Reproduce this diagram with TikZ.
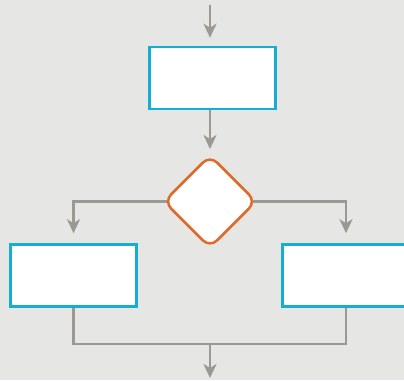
\documentclass[tikz,border=0pt]{standalone}
\usetikzlibrary{arrows.meta}
\definecolor{bgc}{HTML}{E6E6E4}
\definecolor{conc}{HTML}{9A9A92}
\definecolor{boxc}{HTML}{14AED2}
\definecolor{decc}{HTML}{E06A28}
\begin{document}
\begin{tikzpicture}[x=1pt,y=-1pt,
  procbox/.style={draw=boxc,fill=white,line width=2.6pt,rectangle,minimum width=126.5pt,minimum height=62pt,inner sep=0pt},
  decline/.style={draw=decc,fill=white,line width=2.5pt,rounded corners=10pt},
  conn/.style={draw=conc,line width=2.8pt},
  arr/.style={conn,-{Stealth[length=14pt,width=13pt,inset=4pt]}}]
\fill[bgc] (0,0) rectangle (404,380);
\useasboundingbox (0,0) rectangle (404,380);
\node[procbox] (top) at (212.5,78) {};
\node[procbox] (left) at (73.5,275.5) {};
\node[procbox] (right) at (345.5,275.5) {};
\coordinate (dec) at (210,201.5);
\coordinate (dn) at (210,155.5);
\coordinate (ds) at (210,247.5);
\coordinate (dw) at (164,201.5);
\coordinate (de) at (256,201.5);
\coordinate (dwa) at (167.5,201.5);
\coordinate (dea) at (252.5,201.5);
\coordinate (start) at (210,5);
\coordinate (lc) at (73.5,201.5);
\coordinate (rc) at (346,201.5);
\coordinate (merge) at (210,344);
\coordinate (endp) at (210,378);
\draw[arr,shorten >=8pt] (start) -- (start |- top.north);
\draw[arr] (top.south -| dec) -- (210,149);
\draw[arr,shorten >=10pt] (dwa) -- (lc) -- (left.north);
\draw[arr,shorten >=10pt] (dea) -- (rc) -- (rc |- right.north);
\draw[conn] (left.south) |- (merge) -| (rc |- right.south);
\draw[arr] (merge) -- (endp);
\draw[decline] (dn) -- (de) -- (ds) -- (dw) -- cycle;
\end{tikzpicture}
\end{document}
